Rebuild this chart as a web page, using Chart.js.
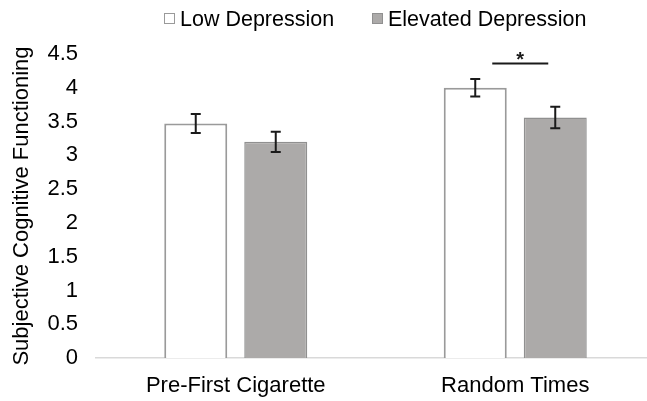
<!DOCTYPE html>
<html>
<head>
<meta charset="utf-8">
<script src="https://cdn.jsdelivr.net/npm/chart.js@4"></script>
<style>
    html, body { margin: 0; padding: 0; background: #fff; overflow: hidden; }
    #wrap { width: 656px; height: 401px; position: relative; }
</style>
</head>
<body>
<div id="wrap"><canvas id="depressionChart"></canvas></div>
<script>
// Data
const categories = ['Pre-First Cigarette', 'Random Times'];
const lowDepression = [3.47, 4.0];
const elevatedDepression = [3.2, 3.56];
const lowDepressionErr = [0.14, 0.13];
const elevatedDepressionErr = [0.15, 0.16];
const seriesLabels = ['Low Depression', 'Elevated Depression'];
// significance marker: category index, level on the y scale
const sigCategory = [1];
const sigLevel = [4.36];

const FONT = '"Liberation Sans", Arial, Helvetica, sans-serif';
const TEXT = '#000';

// Error bars drawn from the y scale
const errorBars = {
    id: 'errorBars',
    afterDatasetsDraw(chart) {
        const ctx = chart.ctx;
        const y = chart.scales.y;
        ctx.save();
        ctx.strokeStyle = '#1a1a1a';
        ctx.lineWidth = 2;
        chart.data.datasets.forEach((ds, i) => {
            const meta = chart.getDatasetMeta(i);
            meta.data.forEach((bar, j) => {
                const v = ds.data[j];
                const e = ds.errors[j];
                const top = y.getPixelForValue(v + e);
                const bot = y.getPixelForValue(v - e);
                ctx.beginPath();
                ctx.moveTo(bar.x, top);
                ctx.lineTo(bar.x, bot);
                ctx.moveTo(bar.x - 5, top);
                ctx.lineTo(bar.x + 5, top);
                ctx.moveTo(bar.x - 5, bot);
                ctx.lineTo(bar.x + 5, bot);
                ctx.stroke();
            });
        });
        ctx.restore();
    },
};

// Significance line and star
const significance = {
    id: 'significance',
    afterDatasetsDraw(chart) {
        const ctx = chart.ctx;
        const x = chart.scales.x;
        const y = chart.scales.y;
        ctx.save();
        sigCategory.forEach((c, k) => {
            const cx = x.getPixelForValue(c);
            const ly = y.getPixelForValue(sigLevel[k]);
            ctx.strokeStyle = '#1a1a1a';
            ctx.lineWidth = 2;
            ctx.beginPath();
            ctx.moveTo(cx - 23, ly);
            ctx.lineTo(cx + 33, ly);
            ctx.stroke();
            ctx.fillStyle = '#1a1a1a';
            ctx.font = 'bold 20px ' + FONT;
            ctx.textAlign = 'center';
            ctx.textBaseline = 'alphabetic';
            ctx.fillText('*', cx + 5, ly + 3);
        });
        ctx.restore();
    },
};

// Legend drawn at the top, like the original figure
const topLegend = {
    id: 'topLegend',
    afterDraw(chart) {
        const ctx = chart.ctx;
        const spots = [164, 372];
        ctx.save();
        ctx.font = '21.5px ' + FONT;
        ctx.textBaseline = 'middle';
        ctx.textAlign = 'left';
        chart.data.datasets.forEach((ds, i) => {
            const bx = spots[i];
            ctx.fillStyle = ds.backgroundColor;
            ctx.fillRect(bx, 13, 11, 11);
            ctx.strokeStyle = ds.borderColor;
            ctx.lineWidth = 1;
            ctx.strokeRect(bx + 0.5, 13.5, 10, 10);
            ctx.fillStyle = TEXT;
            ctx.fillText(ds.label, bx + 16, 20);
        });
        ctx.restore();
    },
};

document.addEventListener('DOMContentLoaded', function () {
    const ctx = document.getElementById('depressionChart').getContext('2d');
    new Chart(ctx, {
        type: 'bar',
        data: {
            labels: categories,
            datasets: [{
                label: seriesLabels[0],
                data: lowDepression,
                errors: lowDepressionErr,
                backgroundColor: '#ffffff',
                borderColor: '#9a9a9a',
                borderWidth: 2,
                barPercentage: 0.7875,
                categoryPercentage: 0.5725,
            }, {
                label: seriesLabels[1],
                data: elevatedDepression,
                errors: elevatedDepressionErr,
                backgroundColor: '#acaaa9',
                borderColor: '#909090',
                borderWidth: 1.5,
                barPercentage: 0.7875,
                categoryPercentage: 0.5725,
            }],
        },
        options: {
            responsive: true,
            maintainAspectRatio: false,
            animation: false,
            devicePixelRatio: 1,
            layout: {
                padding: { top: 54, right: 1, bottom: 0, left: 0 },
            },
            scales: {
                x: {
                    grid: { display: false, drawTicks: false },
                    border: { display: true, color: '#d9d9d9', width: 1.5 },
                    ticks: {
                        color: TEXT,
                        padding: 15,
                        font: { family: FONT, size: 22 },
                    },
                    afterFit(scale) { scale.height = 43; },
                },
                y: {
                    min: 0,
                    max: 4.5,
                    grid: { display: false, drawTicks: false },
                    border: { display: false },
                    ticks: {
                        stepSize: 0.5,
                        color: TEXT,
                        padding: 18,
                        font: { family: FONT, size: 22 },
                        callback: (value) => String(Number(value)),
                    },
                    title: {
                        display: true,
                        text: 'Subjective Cognitive Functioning',
                        color: TEXT,
                        padding: { top: 9, bottom: 0 },
                        font: { family: FONT, size: 22 },
                    },
                    afterFit(scale) { scale.width = 96; },
                },
            },
            plugins: {
                legend: { display: false },
                tooltip: { enabled: false },
            },
        },
        plugins: [errorBars, significance, topLegend],
    });
});
</script>
</body>
</html>
